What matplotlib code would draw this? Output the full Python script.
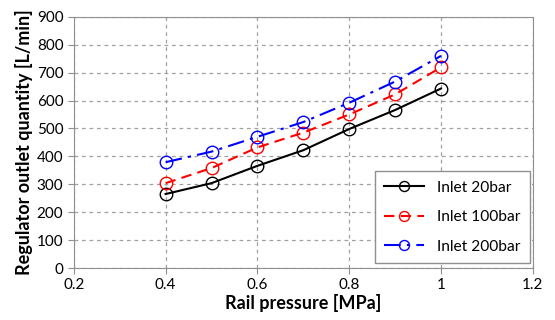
import matplotlib.pyplot as plt

pressure = [0.4, 0.5, 0.6, 0.7, 0.8, 0.9, 1.0]
inlet_20 = [265, 304, 366, 422, 498, 566, 643]
inlet_100 = [304, 358, 432, 485, 550, 622, 719]
inlet_200 = [379, 417, 470, 523, 592, 668, 760]

plt.rcParams['font.family'] = ['Lato', 'DejaVu Sans']

fig = plt.figure(figsize=(5.55, 3.2), dpi=100)
ax = fig.add_axes([0.133, 0.1625, 0.827, 0.785])

ax.plot(pressure, inlet_20, 'k-', marker='o', mfc='none', ms=9, lw=1.5,
        label='Inlet 20bar')
ax.plot(pressure, inlet_100, color='red', ls=(0, (5, 3)), marker='o', mfc='none',
        ms=9, lw=1.5, label='Inlet 100bar')
ax.plot(pressure, inlet_200, color='blue', ls=(0, (8, 3, 1.5, 3)), marker='o',
        mfc='none', ms=9, lw=1.5, label='Inlet 200bar')

ax.set_xlim(0.2, 1.2)
ax.set_ylim(0, 900)
ax.set_xticks([0.2, 0.4, 0.6, 0.8, 1.0, 1.2])
ax.set_xticklabels(['0.2', '0.4', '0.6', '0.8', '1', '1.2'])
ax.set_yticks(range(0, 901, 100))
ax.grid(True, color='#a0a0a0', ls=(0, (3, 3)), lw=0.9)
for s in ax.spines.values():
    s.set_color('#909090')
ax.tick_params(colors='#909090', labelcolor='black', labelsize=11, length=4)

ax.set_xlabel('Rail pressure [MPa]', fontsize=13, fontweight='bold', labelpad=1)
ax.set_ylabel('Regulator outlet quantity [L/min]', fontsize=13,
              fontweight='bold', labelpad=3)

leg = ax.legend(loc='lower right', bbox_to_anchor=(0.993, 0.02), fontsize=11.2,
                fancybox=False, edgecolor='#909090', framealpha=1,
                handlelength=2.6, markerscale=0.8, borderpad=0.6,
                labelspacing=1.0, borderaxespad=0)
leg.get_frame().set_linewidth(1.0)

plt.savefig('out.png')
